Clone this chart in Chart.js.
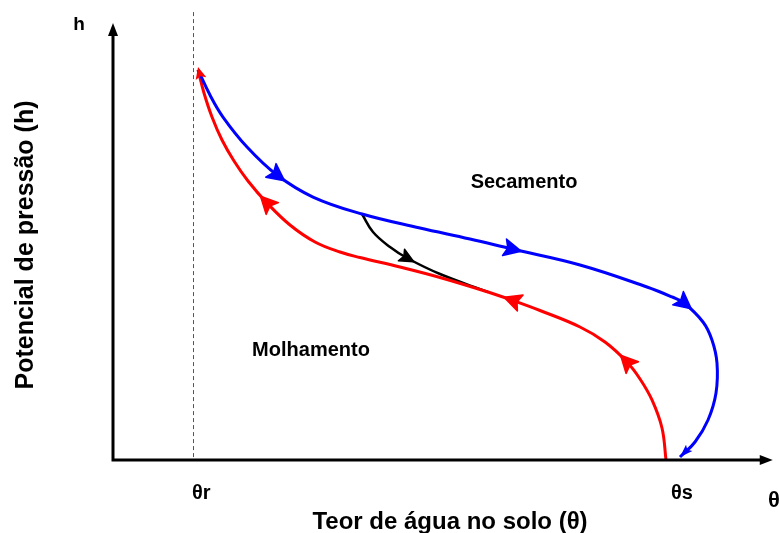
<!DOCTYPE html>
<html><head><meta charset="utf-8">
<script src="https://cdn.jsdelivr.net/npm/chart.js@4"></script>
<style>html,body{margin:0;padding:0;background:#fff}canvas{display:block}</style>
</head><body>
<canvas id="c" width="779" height="533"></canvas>
<script>
// Curva de secamento (azul) [teor de água, potencial]
const dryingCurve = [
  [13.08,88.64],[14.92,82.95],[16.92,77.95],[20.62,71.14],[25.23,64.77],[30.77,59.77],
  [38.31,55.91],[47.23,52.73],[54.92,50.23],[61.38,47.95],[71.85,44.32],[82.15,39.32],
  [86.00,37.05],[87.85,35.68],[90.77,31.36],[92.15,27.27],[92.92,22.05],[92.77,15.23],
  [91.54,9.09],[89.54,4.09],[87.23,0.68]
];
// Curva de molhamento (vermelha)
const wettingCurve = [
  [85.08,0],[84.46,7.27],[82.92,13.64],[81.08,18.41],[79.08,22.27],[75.69,26.82],
  [71.85,30.23],[65.69,33.98],[61.54,36.25],[57.69,38.18],[50.31,41.48],[44.15,43.86],
  [38.00,46.02],[34.92,47.27],[31.08,49.55],[27.23,53.41],[23.69,58.41],[20.77,63.41],
  [18.62,67.95],[16.77,72.73],[15.23,77.95],[14.00,83.41],[13.08,88.64]
];
// Curva de varredura (preta)
const scanningCurve = [
  [38.31,55.91],[40.00,51.82],[42.62,48.41],[45.23,45.91],[50.31,42.27],[57.69,38.18]
];
// índices dos pontos com setas
const dryingArrows = [4, 9, 13];
const wettingArrows = [4, 8, 16];
const scanningArrows = [3];
const thetaR = 12.31, thetaS = 86.0;
const tickValues = [thetaR, thetaS];
const tickLabels = ['θr', 'θs'];
const yAxisTop = 99.3, xAxisEnd = 101.5;

const BLUE = '#0000ff', RED = '#ff0000', BLACK = '#000000';
const toXY = a => a.map(p => ({x: p[0], y: p[1]}));

function px(chart, p) {
  return [chart.scales.x.getPixelForValue(p[0]), chart.scales.y.getPixelForValue(p[1])];
}
function dirAt(chart, arr, i) {
  const a = px(chart, arr[Math.max(0, i - 1)]);
  const b = px(chart, arr[Math.min(arr.length - 1, i + 1)]);
  const dx = b[0] - a[0], dy = b[1] - a[1];
  const l = Math.hypot(dx, dy) || 1;
  return [dx / l, dy / l];
}
function stealth(ctx, c, d, color, L, W) {
  const n = [-d[1], d[0]];
  ctx.save();
  ctx.fillStyle = color;
  ctx.strokeStyle = color;
  ctx.lineWidth = 1.5;
  ctx.lineJoin = 'round';
  ctx.beginPath();
  ctx.moveTo(c[0] + d[0] * L * 0.55, c[1] + d[1] * L * 0.55);
  ctx.lineTo(c[0] - d[0] * L * 0.45 + n[0] * W, c[1] - d[1] * L * 0.45 + n[1] * W);
  ctx.lineTo(c[0] - d[0] * L * 0.25, c[1] - d[1] * L * 0.25);
  ctx.lineTo(c[0] - d[0] * L * 0.45 - n[0] * W, c[1] - d[1] * L * 0.45 - n[1] * W);
  ctx.closePath();
  ctx.fill();
  ctx.stroke();
  ctx.restore();
}
function tipArrow(ctx, tip, d, color, L, W) {
  const n = [-d[1], d[0]];
  ctx.save();
  ctx.fillStyle = color;
  ctx.beginPath();
  ctx.moveTo(tip[0], tip[1]);
  ctx.lineTo(tip[0] - d[0] * L + n[0] * W, tip[1] - d[1] * L + n[1] * W);
  ctx.lineTo(tip[0] - d[0] * L * 0.8, tip[1] - d[1] * L * 0.8);
  ctx.lineTo(tip[0] - d[0] * L - n[0] * W, tip[1] - d[1] * L - n[1] * W);
  ctx.closePath();
  ctx.fill();
  ctx.restore();
}

const decor = {
  id: 'decor',
  beforeDatasetsDraw(chart) {
    const ctx = chart.ctx;
    const xs = chart.scales.x, ys = chart.scales.y;
    const xr = xs.getPixelForValue(thetaR);
    ctx.save();
    ctx.strokeStyle = '#555';
    ctx.lineWidth = 1;
    ctx.setLineDash([4, 3]);
    ctx.beginPath();
    ctx.moveTo(Math.round(xr) + 0.5, ys.getPixelForValue(101.8));
    ctx.lineTo(Math.round(xr) + 0.5, ys.getPixelForValue(0));
    ctx.stroke();
    ctx.restore();
  },
  afterDatasetsDraw(chart) {
    const ctx = chart.ctx;
    const xs = chart.scales.x, ys = chart.scales.y;
    const x0 = xs.getPixelForValue(0), y0 = ys.getPixelForValue(0);
    const yTop = ys.getPixelForValue(yAxisTop), xEnd = xs.getPixelForValue(xAxisEnd);
    ctx.save();
    ctx.strokeStyle = BLACK;
    ctx.lineWidth = 3;
    ctx.beginPath();
    ctx.moveTo(x0, y0); ctx.lineTo(x0, yTop + 10);
    ctx.moveTo(x0 - 1.5, y0); ctx.lineTo(xEnd - 10, y0);
    ctx.stroke();
    ctx.fillStyle = BLACK;
    ctx.beginPath();
    ctx.moveTo(x0, yTop); ctx.lineTo(x0 - 5, yTop + 13); ctx.lineTo(x0 + 5, yTop + 13); ctx.closePath();
    ctx.fill();
    ctx.beginPath();
    ctx.moveTo(xEnd, y0); ctx.lineTo(xEnd - 13, y0 - 5); ctx.lineTo(xEnd - 13, y0 + 5); ctx.closePath();
    ctx.fill();
    ctx.restore();
    dryingArrows.forEach(i => stealth(ctx, px(chart, dryingCurve[i]), dirAt(chart, dryingCurve, i), BLUE, 17, 8.5));
    wettingArrows.forEach(i => stealth(ctx, px(chart, wettingCurve[i]), dirAt(chart, wettingCurve, i), RED, 17, 8.5));
    scanningArrows.forEach(i => stealth(ctx, px(chart, scanningCurve[i]), dirAt(chart, scanningCurve, i), BLACK, 14, 6.5));
    const bl = dryingCurve.length - 1;
    tipArrow(ctx, px(chart, dryingCurve[bl]), dirAt(chart, dryingCurve, bl), BLUE, 13, 4.5);
    const rl = wettingCurve.length - 1;
    const rt = px(chart, wettingCurve[rl]);
    tipArrow(ctx, [rt[0], rt[1] - 3], dirAt(chart, wettingCurve, rl), RED, 12, 5.5);
  },
  afterDraw(chart) {
    const ctx = chart.ctx;
    const xs = chart.scales.x;
    ctx.save();
    ctx.fillStyle = BLACK;
    ctx.textBaseline = 'alphabetic';
    ctx.font = 'bold 19px "Liberation Sans", Arial, sans-serif';
    ctx.textAlign = 'center';
    ctx.fillText('h', 79, 30);
    ctx.font = 'bold 20px "Liberation Sans", Arial, sans-serif';
    ctx.fillText('Secamento', 524, 188);
    ctx.fillText('Molhamento', 311, 356);
    ctx.textAlign = 'left';
    ctx.font = 'bold 20px "Liberation Sans", Arial, sans-serif';
    tickValues.forEach((v, i) => {
      ctx.fillText(tickLabels[i], xs.getPixelForValue(v) - 1, 499);
    });
    ctx.font = 'bold 22px "Liberation Sans", Arial, sans-serif';
    ctx.fillText('θ', 768, 507);
    ctx.textAlign = 'center';
    ctx.font = 'bold 24px "Liberation Sans", Arial, sans-serif';
    ctx.fillText('Teor de água no solo (θ)', 450, 529);
    ctx.translate(33, 245);
    ctx.rotate(-Math.PI / 2);
    ctx.font = 'bold 25px "Liberation Sans", Arial, sans-serif';
    ctx.fillText('Potencial de pressão (h)', 0, 0);
    ctx.restore();
  }
};

const ds = (data, color, w) => ({
  data: toXY(data), showLine: true, borderColor: color, borderWidth: w,
  pointRadius: 0, tension: 0.4, fill: false, clip: false
});

new Chart(document.getElementById('c'), {
  type: 'scatter',
  data: { datasets: [ds(dryingCurve, BLUE, 3), ds(wettingCurve, RED, 3), ds(scanningCurve, BLACK, 2.5)] },
  options: {
    responsive: false, animation: false, devicePixelRatio: 1,
    layout: { padding: { left: 113, right: 16, top: 20, bottom: 73 } },
    scales: {
      x: { type: 'linear', min: 0, max: 100, display: false },
      y: { type: 'linear', min: 0, max: 100, display: false }
    },
    plugins: { legend: { display: false }, tooltip: { enabled: false } }
  },
  plugins: [decor]
});
</script>
</body></html>
